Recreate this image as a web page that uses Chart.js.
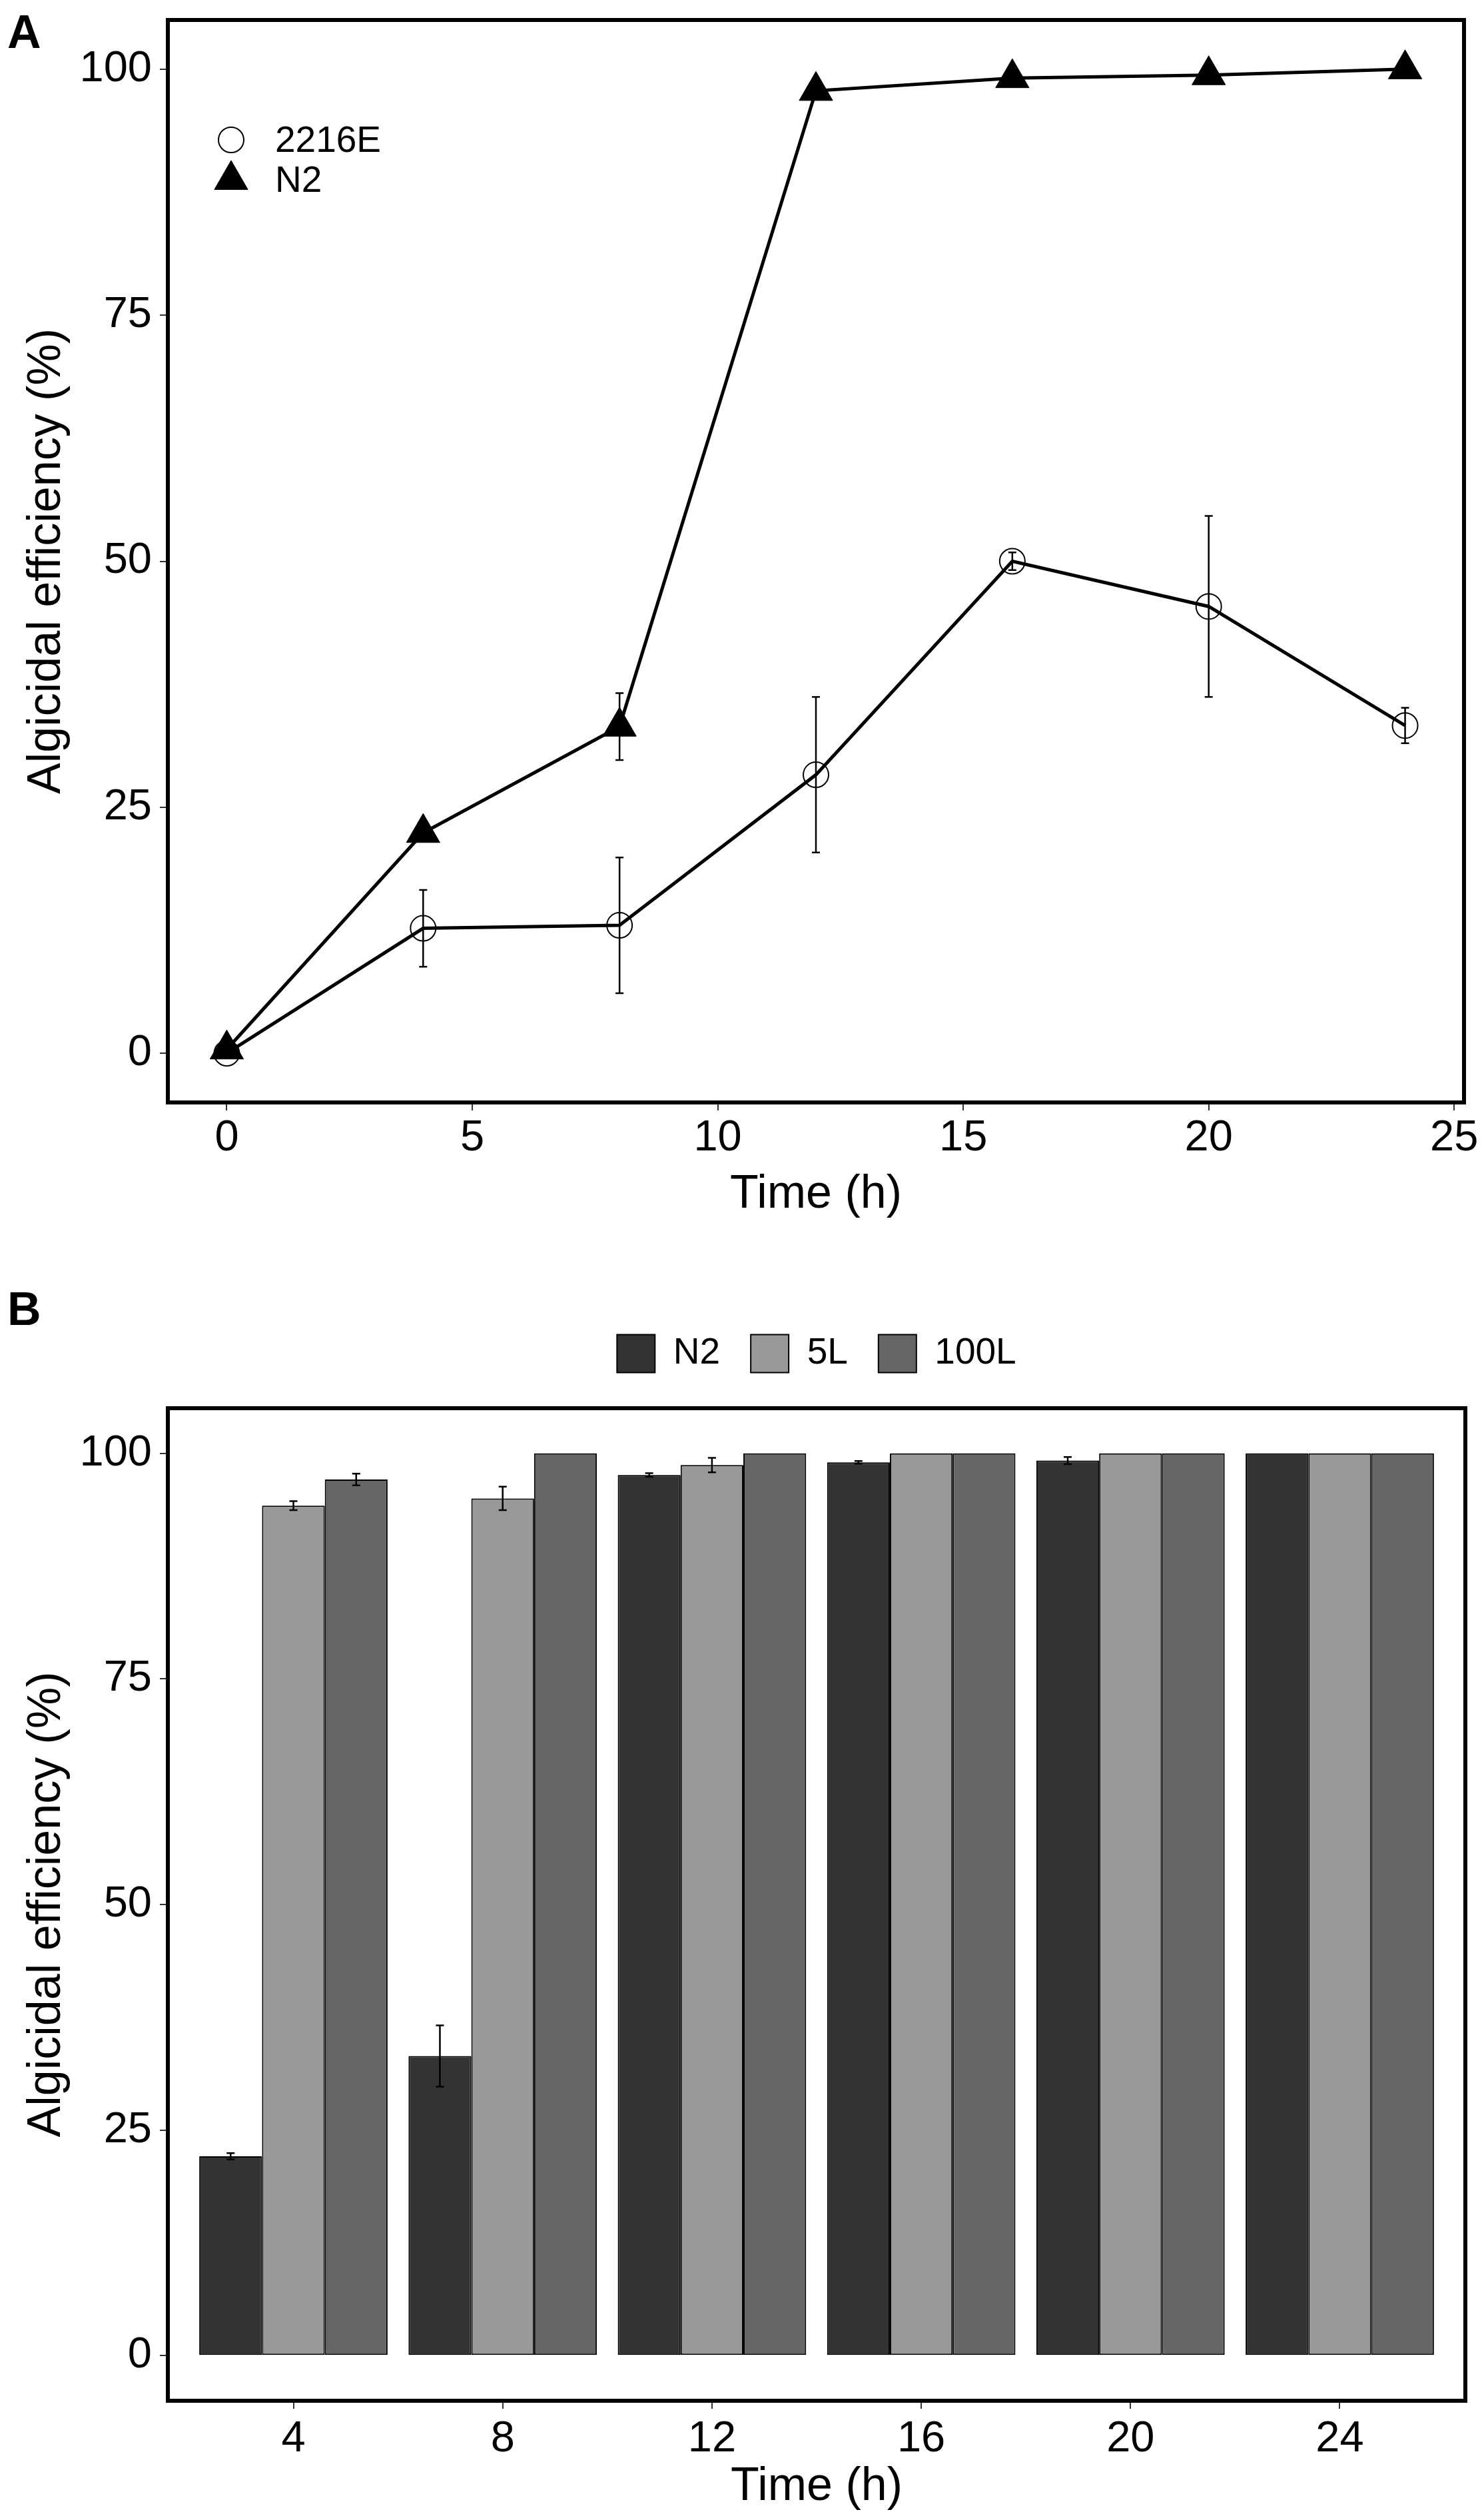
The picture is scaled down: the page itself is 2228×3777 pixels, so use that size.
<!DOCTYPE html>
<html>
<head>
<meta charset="utf-8">
<script src="https://cdn.jsdelivr.net/npm/chart.js@4.4.1/dist/chart.umd.min.js"></script>
<style>
  html, body { margin: 0; padding: 0; background: #fff; overflow: hidden; }
  #page { position: relative; width: 2228px; height: 3777px; }
  canvas { position: absolute; left: 0; }
  .panel { position: absolute; left: 11px; font: bold 70px 'Liberation Sans', Arial, sans-serif; line-height: 70px; color: #000; }
</style>
</head>
<body>
<div id="page">
  <canvas id="chartA" width="2228" height="1860" style="top:0;width:2228px;height:1860px"></canvas>
  <canvas id="chartB" width="2228" height="1917" style="top:1860px;width:2228px;height:1917px"></canvas>
  <div class="panel" style="top:13px">A</div>
  <div class="panel" style="top:1930px">B</div>
</div>
<script>
// panel A - time course
const timeA = [0, 4, 8, 12, 16, 20, 24];
const eff2216E = [0, 12.7, 13.0, 28.3, 50.0, 45.4, 33.3];
const err2216E = [0, 3.9, 6.9, 7.9, 0.9, 9.2, 1.8];
const effN2 = [0.4, 22.4, 33.2, 97.8, 99.1, 99.4, 100];
const errN2 = [0.2, 0.4, 3.4, 0.3, 0.2, 0.2, 0];
const ticksTimeA = [0, 5, 10, 15, 20, 25];
const ticksEff = [0, 25, 50, 75, 100];

// panel B - bars per time point
const timeB = [4, 8, 12, 16, 20, 24];
const barN2 = [22.1, 33.2, 97.6, 99.0, 99.2, 100];
const errBarN2 = [0.35, 3.4, 0.2, 0.15, 0.4, 0];
const bar5L = [94.2, 95.0, 98.7, 100, 100, 100];
const errBar5L = [0.5, 1.3, 0.8, 0, 0, 0];
const bar100L = [97.1, 100, 100, 100, 100, 100];
const errBar100L = [0.65, 0, 0, 0, 0, 0];

const FONT = "'Liberation Sans', Arial, sans-serif";
const tickFont = { family: FONT, size: 65 };
const titleFont = { family: FONT, size: 70 };

function xy(xs, ys) {
    return xs.map((x, i) => ({ x: x, y: ys[i] }));
}

// same geometry as chart.js point styles
function drawMarker(ctx, style, r, x, y) {
    ctx.beginPath();
    if (style === 'triangle') {
        for (let k = 0; k < 3; k++) {
            const a = k * 2 * Math.PI / 3;
            const px = x + Math.sin(a) * r, py = y - Math.cos(a) * r;
            if (k === 0) ctx.moveTo(px, py); else ctx.lineTo(px, py);
        }
        ctx.closePath();
    } else {
        ctx.arc(x, y, r, 0, Math.PI * 2);
    }
    ctx.fill();
    ctx.stroke();
}

const errorBars = {
    id: 'errorBars',
    afterDatasetsDraw(chart, args, opts) {
        const ctx = chart.ctx, y = chart.scales.y;
        chart.data.datasets.forEach((ds, i) => {
            if (!ds.errors) return;
            const meta = chart.getDatasetMeta(i);
            ctx.save();
            ctx.strokeStyle = '#000';
            ctx.lineWidth = opts.width;
            meta.data.forEach((el, j) => {
                const e = ds.errors[j];
                if (!e) return;
                const v = ds.data[j].y;
                const top = y.getPixelForValue(v + e), bot = y.getPixelForValue(v - e);
                ctx.beginPath();
                ctx.moveTo(el.x, top); ctx.lineTo(el.x, bot);
                ctx.moveTo(el.x - opts.cap, top); ctx.lineTo(el.x + opts.cap, top);
                ctx.moveTo(el.x - opts.cap, bot); ctx.lineTo(el.x + opts.cap, bot);
                ctx.stroke();
            });
            ctx.restore();
        });
    }
};

const frame = {
    id: 'frame',
    afterDraw(chart, args, opts) {
        const { left, top, right, bottom } = chart.chartArea;
        const ctx = chart.ctx;
        ctx.save();
        ctx.strokeStyle = '#000';
        ctx.lineWidth = opts.width;
        ctx.strokeRect(left, top, right - left, bottom - top);
        ctx.restore();
    }
};

// legend drawn inside the plot area of panel A
const insetLegend = {
    id: 'insetLegend',
    afterDraw(chart, args, opts) {
        const ctx = chart.ctx, { left, top } = chart.chartArea;
        ctx.save();
        chart.data.datasets.forEach((ds, i) => {
            const cy = top + opts.y + i * opts.rowHeight;
            ctx.fillStyle = ds.pointBackgroundColor;
            ctx.strokeStyle = ds.pointBorderColor;
            ctx.lineWidth = ds.pointBorderWidth;
            drawMarker(ctx, ds.pointStyle, ds.pointRadius, left + opts.x, cy - 3);
            ctx.fillStyle = '#000';
            ctx.font = opts.size + 'px ' + FONT;
            ctx.textBaseline = 'middle';
            ctx.fillText(ds.label, left + opts.textX, cy);
        });
        ctx.restore();
    }
};

function fixedTicks(list) {
    return scale => { scale.ticks = list.map(v => ({ value: v })); };
}

// fixed axis size, and no extra room for half labels at the ends
function axisSize(key, size) {
    return scale => {
        scale[key] = size;
        scale.paddingTop = 0; scale.paddingBottom = 0;
        scale.paddingLeft = 0; scale.paddingRight = 0;
    };
}

const gridOpts = { drawOnChartArea: false, tickLength: 12, tickColor: '#333', lineWidth: 2 };

new Chart(document.getElementById('chartA'), {
    type: 'line',
    data: {
        datasets: [
            {
                label: '2216E',
                data: xy(timeA, eff2216E),
                errors: err2216E,
                borderColor: '#000',
                borderWidth: 5,
                tension: 0,
                pointStyle: 'circle',
                pointRadius: 19,
                pointBorderWidth: 2,
                pointBorderColor: '#000',
                pointBackgroundColor: 'rgba(255,255,255,0)',
                order: 1
            },
            {
                label: 'N2',
                data: xy(timeA, effN2),
                errors: errN2,
                borderColor: '#000',
                borderWidth: 5,
                tension: 0,
                pointStyle: 'triangle',
                pointRadius: 29,
                pointBorderWidth: 1,
                pointBorderColor: '#000',
                pointBackgroundColor: '#000',
                order: 0
            }
        ]
    },
    options: {
        responsive: false,
        animation: false,
        devicePixelRatio: 1,
        layout: { padding: { top: 27, right: 28, left: 0, bottom: 0 } },
        plugins: {
            legend: { display: false },
            tooltip: { enabled: false },
            errorBars: { width: 2.5, cap: 6 },
            frame: { width: 6 },
            insetLegend: { x: 95, textX: 161, y: 183, rowHeight: 60, size: 55 }
        },
        scales: {
            x: {
                type: 'linear',
                min: -1.2,
                max: 25.2,
                afterBuildTicks: fixedTicks(ticksTimeA),
                afterFit: axisSize('height', 205),
                ticks: { font: tickFont, color: '#000', padding: 3, maxRotation: 0 },
                grid: gridOpts,
                border: { display: false },
                title: { display: true, text: 'Time (h)', font: titleFont, color: '#000', padding: { top: 0, bottom: 24 } }
            },
            y: {
                min: -5,
                max: 105,
                afterBuildTicks: fixedTicks(ticksEff),
                afterFit: axisSize('width', 252),
                ticks: { font: tickFont, color: '#000', padding: 12 },
                grid: gridOpts,
                border: { display: false },
                title: { display: true, text: 'Algicidal efficiency (%)', font: titleFont, color: '#000', padding: { top: 29, bottom: 0 } }
            }
        }
    },
    plugins: [errorBars, frame, insetLegend]
});

new Chart(document.getElementById('chartB'), {
    type: 'bar',
    data: {
        datasets: [
            { label: 'N2', data: xy(timeB, barN2), errors: errBarN2, backgroundColor: '#333333' },
            { label: '5L', data: xy(timeB, bar5L), errors: errBar5L, backgroundColor: '#999999' },
            { label: '100L', data: xy(timeB, bar100L), errors: errBar100L, backgroundColor: '#666666' }
        ]
    },
    options: {
        responsive: false,
        animation: false,
        devicePixelRatio: 1,
        datasets: {
            bar: { categoryPercentage: 0.9, barPercentage: 1, borderColor: '#000', borderWidth: 2, borderSkipped: false }
        },
        layout: { padding: { top: 97.5, right: 28, left: 0, bottom: 0 } },
        plugins: {
            legend: {
                display: true,
                position: 'top',
                fullSize: false,
                labels: { boxWidth: 57, boxHeight: 57, padding: 46, color: '#000', font: { family: FONT, size: 55 } }
            },
            // empty spacer between legend and plot
            subtitle: { display: true, text: ' ', position: 'top', weight: 500, fullSize: false, font: { size: 20 }, padding: { top: 0, bottom: 19.5 } },
            tooltip: { enabled: false },
            errorBars: { width: 2.5, cap: 6 },
            frame: { width: 6 }
        },
        scales: {
            x: {
                type: 'linear',
                min: 1.6,
                max: 26.4,
                offset: false,
                afterBuildTicks: fixedTicks(timeB),
                afterFit: axisSize('height', 173),
                ticks: { font: tickFont, color: '#000', padding: 7, maxRotation: 0 },
                grid: Object.assign({ offset: false }, gridOpts),
                border: { display: false },
                title: { display: true, text: 'Time (h)', font: titleFont, color: '#000', padding: { top: 0, bottom: 1 } }
            },
            y: {
                min: -5,
                max: 105,
                afterBuildTicks: fixedTicks(ticksEff),
                afterFit: axisSize('width', 252),
                ticks: { font: tickFont, color: '#000', padding: 12 },
                grid: gridOpts,
                border: { display: false },
                title: { display: true, text: 'Algicidal efficiency (%)', font: titleFont, color: '#000', padding: { top: 29, bottom: 0 } }
            }
        }
    },
    plugins: [errorBars, frame]
});
</script>
</body>
</html>
